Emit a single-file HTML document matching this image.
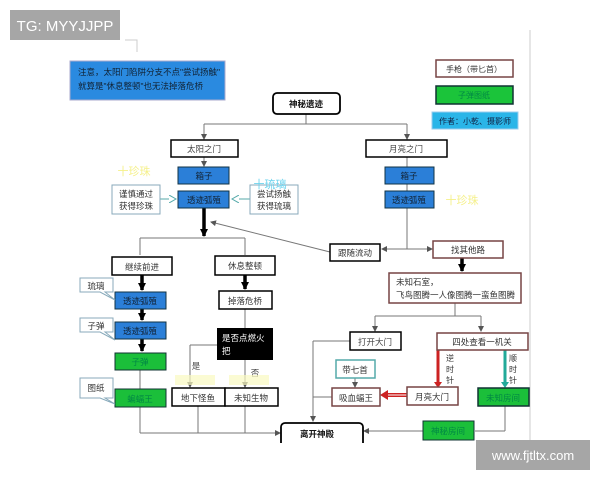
<!DOCTYPE html>
<html><head><meta charset="utf-8"><style>
html,body{margin:0;padding:0;background:#fff;}
svg{display:block;}
text{font-family:"Liberation Sans","Noto Sans CJK SC",sans-serif;}
</style></head><body>
<svg width="600" height="480" viewBox="0 0 600 480" xmlns="http://www.w3.org/2000/svg">
<defs>
<marker id="a" markerUnits="userSpaceOnUse" markerWidth="6" markerHeight="6" refX="5" refY="3" orient="auto"><path d="M0,0 L6,3 L0,6 z" fill="#555"/></marker>
<marker id="ab" markerUnits="userSpaceOnUse" markerWidth="8" markerHeight="8" refX="7" refY="4" orient="auto"><path d="M0,0 L8,4 L0,8 z" fill="#000"/></marker>
<marker id="ao" markerUnits="userSpaceOnUse" markerWidth="8" markerHeight="8" refX="7" refY="4" orient="auto"><path d="M0,0 L7,4 L0,8" fill="#fff" stroke="#5aa" stroke-width="1"/></marker>
</defs>
<rect width="600" height="480" fill="#fff"/>
<line x1="530" y1="30" x2="530" y2="445" stroke="#ccc" stroke-width="1"/>
<path d="M125 40 L137 40 L137 52" fill="none" stroke="#ccc"/>
<rect x="10" y="10" width="110" height="30" fill="#a6a6a6"/>
<text x="65" y="31" font-size="15" fill="#fff" text-anchor="middle">TG: MYYJJPP</text>

<rect x="70" y="61" width="155" height="39" fill="#2a8ae0" stroke="#aac" />
<text x="78" y="75" font-size="8.5" fill="#123">注意，太阳门陷阱分支不点"尝试扬触"</text>
<text x="78" y="89" font-size="8.5" fill="#123">就算是"休息整顿"也无法掉落危桥</text>

<rect x="436" y="60" width="77" height="17" fill="#fff" stroke="#744" stroke-width="1.5"/>
<text x="474" y="72" font-size="8" text-anchor="middle" fill="#333">手枪（带匕首）</text>
<rect x="436" y="86" width="77" height="18" fill="#1bc43a" stroke="#133" stroke-width="1.5"/>
<text x="474" y="98" font-size="8" text-anchor="middle" fill="#084">子弹图纸</text>
<rect x="432" y="112" width="86" height="17" fill="#2ab5e8" stroke="#9ce" />
<text x="475" y="124" font-size="8" text-anchor="middle" fill="#124">作者：小乾、摄影师</text>

<g stroke="#777" stroke-width="1" fill="none">
<line x1="306" y1="114" x2="306" y2="124"/>
<line x1="204" y1="124" x2="407" y2="124"/>
<line x1="204" y1="124" x2="204" y2="139" marker-end="url(#a)"/>
<line x1="407" y1="124" x2="407" y2="139" marker-end="url(#a)"/>
<line x1="204" y1="157" x2="204" y2="166" marker-end="url(#a)"/>
<line x1="407" y1="157" x2="407" y2="249"/>
<line x1="407" y1="249" x2="382" y2="249" marker-end="url(#a)"/>
<line x1="407" y1="249" x2="432" y2="249" marker-end="url(#a)"/>
<line x1="330" y1="252" x2="211" y2="222" marker-end="url(#a)"/>
<line x1="140" y1="238" x2="245" y2="238"/>
<line x1="140" y1="238" x2="140" y2="255"/>
<line x1="245" y1="238" x2="245" y2="255"/>
<line x1="455" y1="303" x2="455" y2="316"/>
<line x1="375" y1="316" x2="481" y2="316"/>
<line x1="375" y1="316" x2="375" y2="331" marker-end="url(#a)"/>
<line x1="481" y1="316" x2="481" y2="331" marker-end="url(#a)"/>
<line x1="350" y1="341" x2="313" y2="341"/>
<line x1="313" y1="341" x2="313" y2="421" marker-end="url(#a)"/>
<line x1="332" y1="397" x2="313" y2="397"/>
<line x1="355" y1="378" x2="355" y2="387" marker-end="url(#a)"/>
<line x1="140" y1="407" x2="140" y2="433"/>
<line x1="140" y1="370" x2="140" y2="389"/>
<line x1="140" y1="433" x2="280" y2="433" marker-end="url(#a)"/>
<line x1="198" y1="406" x2="198" y2="433"/>
<line x1="245" y1="406" x2="245" y2="433"/>
<line x1="245" y1="309" x2="245" y2="328"/>
<line x1="217" y1="345" x2="190" y2="345"/>
<line x1="190" y1="345" x2="190" y2="387" marker-end="url(#a)"/>
<line x1="245" y1="360" x2="245" y2="387" marker-end="url(#a)"/>
<line x1="505" y1="406" x2="505" y2="431"/>
<line x1="505" y1="431" x2="475" y2="431"/>
<line x1="423" y1="431" x2="364" y2="431" marker-end="url(#a)"/>
</g>
<g stroke="#000" stroke-width="3.5">
<line x1="204" y1="208" x2="204" y2="236" marker-end="url(#ab)"/>
<line x1="142" y1="275" x2="142" y2="290" marker-end="url(#ab)"/>
<line x1="142" y1="309" x2="142" y2="320" marker-end="url(#ab)"/>
<line x1="142" y1="339" x2="142" y2="351" marker-end="url(#ab)"/>
<line x1="245" y1="275" x2="245" y2="289" marker-end="url(#ab)"/>
<line x1="462" y1="258" x2="462" y2="271" marker-end="url(#ab)"/>
</g>
<g stroke="#5aa" stroke-width="1" fill="none">
<line x1="160" y1="199" x2="176" y2="199" marker-end="url(#ao)"/>
<line x1="250" y1="199" x2="232" y2="199" marker-end="url(#ao)"/>
</g>
<line x1="438" y1="350" x2="438" y2="383" stroke="#c22" stroke-width="3"/>
<path d="M434 382 L438 388 L442 382z" fill="#c22"/>
<line x1="407" y1="395" x2="386" y2="395" stroke="#c22" stroke-width="4"/>
<line x1="407" y1="395" x2="386" y2="395" stroke="#fff" stroke-width="1"/>
<path d="M388 390 L380 395 L388 400z" fill="#c22"/>
<line x1="505" y1="350" x2="505" y2="383" stroke="#2a9" stroke-width="3"/>
<path d="M501 382 L505 388 L509 382z" fill="#2a9"/>

<g font-size="8.5" text-anchor="middle">
<rect x="273" y="93" width="67" height="21" rx="4" fill="#fff" stroke="#000" stroke-width="1.8"/>
<text x="306" y="107" font-weight="bold" fill="#111">神秘遗迹</text>
<rect x="171" y="140" width="67" height="17" fill="#fff" stroke="#000" stroke-width="1.5"/>
<text x="204" y="152" fill="#444">太阳之门</text>
<rect x="366" y="140" width="81" height="17" fill="#fff" stroke="#000" stroke-width="1.5"/>
<text x="406" y="152" fill="#444">月亮之门</text>
<rect x="178" y="167" width="51" height="17" fill="#2b7fd8" stroke="#134"/>
<text x="204" y="179" fill="#123">箱子</text>
<rect x="178" y="191" width="51" height="17" fill="#2b7fd8" stroke="#134"/>
<text x="204" y="203" fill="#123">透迹弧殖</text>
<rect x="385" y="167" width="49" height="17" fill="#2b7fd8" stroke="#134"/>
<text x="409" y="179" fill="#123">箱子</text>
<rect x="385" y="191" width="49" height="17" fill="#2b7fd8" stroke="#134"/>
<text x="409" y="203" fill="#123">透迹弧殖</text>
<rect x="112" y="185" width="48" height="29" fill="#fff" stroke="#8ab"/>
<text x="136" y="197" fill="#333">谨慎通过</text><text x="136" y="209" fill="#333">获得珍珠</text>
<rect x="250" y="185" width="48" height="29" fill="#fff" stroke="#8ab"/>
<text x="274" y="197" fill="#333">尝试扬触</text><text x="274" y="209" fill="#333">获得琉璃</text>
<text x="134" y="175" font-size="11" fill="#f5f08a">十珍珠</text>
<text x="270" y="188" font-size="11" fill="#6cd3ee">十琉璃</text>
<text x="462" y="204" font-size="11" fill="#f5f08a">十珍珠</text>

<rect x="330" y="244" width="50" height="17" fill="#fff" stroke="#000" stroke-width="1.5"/>
<text x="355" y="256" fill="#333">跟随流动</text>
<rect x="433" y="241" width="70" height="17" fill="#fff" stroke="#744" stroke-width="1.5"/>
<text x="468" y="253" fill="#333">找其他路</text>
<rect x="389" y="273" width="132" height="30" fill="#fff" stroke="#744" stroke-width="1.5"/>
<text x="396" y="285" text-anchor="start" fill="#333">未知石室，</text>
<text x="396" y="298" text-anchor="start" fill="#333">飞鸟图腾一人像图腾一蛮鱼图腾</text>

<rect x="112" y="257" width="60" height="18" fill="#fff" stroke="#000" stroke-width="1.5"/>
<text x="142" y="270" fill="#333">继续前进</text>
<rect x="215" y="256" width="60" height="19" fill="#fff" stroke="#000" stroke-width="1.5"/>
<text x="245" y="269" fill="#333">休息整顿</text>
<rect x="219" y="291" width="53" height="18" fill="#fff" stroke="#000" stroke-width="1.5"/>
<text x="245" y="304" fill="#333">掉落危桥</text>
<rect x="217" y="328" width="56" height="32" fill="#000"/>
<text x="222" y="341" text-anchor="start" fill="#fff">是否点燃火</text>
<text x="222" y="354" text-anchor="start" fill="#fff">把</text>
<text x="196" y="369" fill="#444">是</text>
<text x="255" y="376" fill="#444">否</text>
<rect x="175" y="375" width="40" height="10" fill="#fafac0" opacity="0.7"/>
<rect x="229" y="375" width="40" height="10" fill="#fafac0" opacity="0.7"/>
<rect x="172" y="388" width="53" height="18" fill="#fff" stroke="#000" stroke-width="1.5"/>
<text x="198" y="401" fill="#333">地下怪鱼</text>
<rect x="225" y="388" width="53" height="18" fill="#fff" stroke="#000" stroke-width="1.5"/>
<text x="251" y="401" fill="#333">未知生物</text>

<rect x="115" y="292" width="51" height="17" fill="#2b7fd8" stroke="#134"/>
<text x="140" y="304" fill="#123">透迹弧殖</text>
<rect x="115" y="322" width="51" height="17" fill="#2b7fd8" stroke="#134"/>
<text x="140" y="334" fill="#123">透迹弧殖</text>
<rect x="115" y="353" width="51" height="17" fill="#1bbf3a" stroke="#133"/>
<text x="140" y="365" fill="#084">子弹</text>
<rect x="115" y="389" width="51" height="18" fill="#1bbf3a" stroke="#133"/>
<text x="140" y="402" fill="#084">蝙蝠王</text>
<g fill="#fff" stroke="#8ab">
<path d="M80 278 H113 V292 H105 L115 300 L100 292 H80 Z"/>
<path d="M80 318 H113 V332 H105 L115 340 L100 332 H80 Z"/>
<path d="M80 378 H113 V398 H105 L115 404 L100 398 H80 Z"/>
</g>
<text x="96" y="289" fill="#333">琉璃</text>
<text x="96" y="329" fill="#333">子弹</text>
<text x="96" y="391" fill="#333">图纸</text>

<rect x="350" y="332" width="51" height="18" fill="#fff" stroke="#000" stroke-width="1.5"/>
<text x="375" y="345" fill="#444">打开大门</text>
<rect x="437" y="333" width="91" height="17" fill="#fff" stroke="#744" stroke-width="1.5"/>
<text x="482" y="345" fill="#333">四处查看一机关</text>
<g font-size="8">
<text x="450" y="361" fill="#333">逆</text><text x="450" y="372" fill="#333">时</text><text x="450" y="383" fill="#333">针</text>
<text x="513" y="361" fill="#333">顺</text><text x="513" y="372" fill="#333">时</text><text x="513" y="383" fill="#333">针</text>
</g>
<rect x="336" y="360" width="39" height="18" fill="#fff" stroke="#5aa" stroke-width="1.5"/>
<text x="355" y="373" fill="#333">带七首</text>
<rect x="332" y="388" width="48" height="18" fill="#fff" stroke="#744" stroke-width="1.5"/>
<text x="356" y="401" fill="#333">吸血蝠王</text>
<rect x="407" y="387" width="51" height="18" fill="#fff" stroke="#744" stroke-width="1.5"/>
<text x="432" y="400" fill="#333">月亮大门</text>
<rect x="478" y="388" width="51" height="18" fill="#1bbf3a" stroke="#133" stroke-width="1.5"/>
<text x="503" y="401" fill="#084">未知房间</text>
<rect x="423" y="421" width="51" height="19" fill="#1bbf3a" stroke="#133"/>
<text x="448" y="434" fill="#084">神秘房间</text>
<rect x="281" y="423" width="82" height="24" rx="4" fill="#fff" stroke="#000" stroke-width="1.8"/>
<text x="317" y="437" font-weight="bold" fill="#111">离开神殿</text>
</g>
<rect x="276" y="443" width="100" height="37" fill="#fff"/>

<rect x="476" y="440" width="114" height="30" fill="#a6a6a6"/>
<text x="533" y="460" font-size="13" fill="#fff" text-anchor="middle">www.fjtltx.com</text>
</svg>
</body></html>
